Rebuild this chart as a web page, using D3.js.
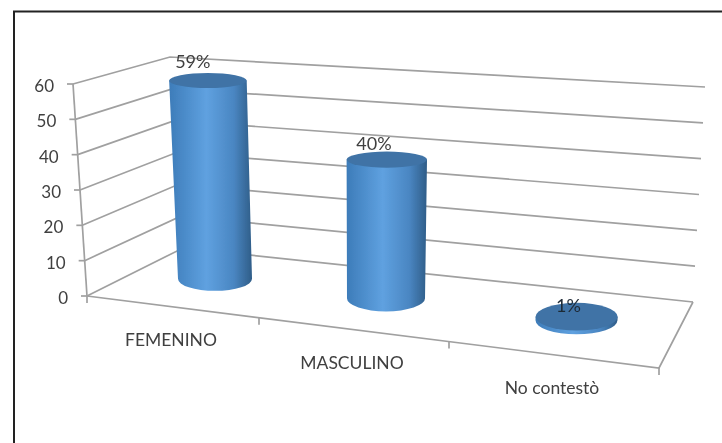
<!DOCTYPE html>
<html>
<head>
<meta charset="utf-8">
<title>Sexo</title>
<script src="https://cdn.jsdelivr.net/npm/d3@7/dist/d3.min.js"></script>
<style>
    html, body { margin: 0; padding: 0; background: #fff; }
    svg { display: block; }
    text { font-family: Lato, "Open Sans", sans-serif; fill: #404040; }
</style>
</head>
<body>
<script>
var categories = ["FEMENINO", "MASCULINO", "No contestò"];
var values = [59, 40, 1];
var valueLabels = ["59%", "40%", "1%"];
var yTicks = [0, 10, 20, 30, 40, 50, 60];

var svgWidth = 722, svgHeight = 443;

var svg = d3.select("body").append("svg")
    .attr("width", svgWidth)
    .attr("height", svgHeight);

var defs = svg.append("defs");
defs.append("filter").attr("id", "soft")
    .attr("x", 0).attr("y", 0).attr("width", 1).attr("height", 1)
    .attr("filterUnits", "objectBoundingBox")
    .append("feGaussianBlur").attr("stdDeviation", 0.45);

var grad = defs.append("linearGradient").attr("id", "side");
grad.append("stop").attr("offset", "0%").attr("stop-color", "#3d7cb9");
grad.append("stop").attr("offset", "45%").attr("stop-color", "#5fa1e0");
grad.append("stop").attr("offset", "78%").attr("stop-color", "#4a86c2");
grad.append("stop").attr("offset", "100%").attr("stop-color", "#2f5d88");

var root = svg.append("g").attr("filter", "url(#soft)");
root.append("rect").attr("width", svgWidth).attr("height", svgHeight).attr("fill", "#fff");

// frame, only top and left are in the picture
root.append("path")
    .attr("d", "M14,443V11.5H722")
    .attr("fill", "none")
    .attr("stroke", "#222")
    .attr("stroke-width", 2);

// the vertical edges of the 3d box
var frontX = d3.scaleLinear().domain([0, 60]).range([87, 73]);
var frontY = d3.scaleLinear().domain([0, 60]).range([296, 84]);
var backX = d3.scaleLinear().domain([0, 60]).range([183, 170]);
var backY = d3.scaleLinear().domain([0, 60]).range([248, 57]);
var rightX = d3.scaleLinear().domain([0, 60]).range([693, 705]);
var rightY = d3.scaleLinear().domain([0, 60]).range([302, 87]);

// floor edges, index 0..3 is the category boundary
var floorFrontX = d3.scaleLinear().domain([0, 1, 2, 3]).range([87, 259, 449, 659]);
var floorFrontY = d3.scaleLinear().domain([87, 659]).range([296, 368]);
var floorBackX = d3.scaleLinear().domain([0, 1, 2, 3]).range([183, 331, 505, 693]);
var floorBackY = d3.scaleLinear().domain([183, 693]).range([248, 302]);

var gridColor = "#a0a0a0";
var grid = root.append("g")
    .attr("fill", "none")
    .attr("stroke", gridColor)
    .attr("stroke-width", 1.7);

grid.selectAll("path.wall").data(yTicks).enter().append("path")
    .attr("class", "wall")
    .attr("d", function(d) {
        return "M" + frontX(d) + "," + frontY(d) +
            "L" + backX(d) + "," + backY(d) +
            "L" + rightX(d) + "," + rightY(d);
    });

// left edge + its ticks
grid.append("path").attr("d", "M" + frontX(60) + "," + frontY(60) + "L" + frontX(0) + "," + frontY(0));
grid.selectAll("line.ytick").data(yTicks).enter().append("line")
    .attr("class", "ytick")
    .attr("x1", function(d) { return frontX(d) - 6; })
    .attr("x2", function(d) { return frontX(d); })
    .attr("y1", function(d) { return frontY(d); })
    .attr("y2", function(d) { return frontY(d); });

// floor
grid.append("path").attr("d",
    "M" + floorFrontX(0) + "," + floorFrontY(floorFrontX(0)) +
    "L" + floorFrontX(3) + "," + floorFrontY(floorFrontX(3)) +
    "L" + rightX(0) + "," + rightY(0));
grid.selectAll("line.xtick").data([0, 1, 2, 3]).enter().append("line")
    .attr("class", "xtick")
    .attr("x1", function(d) { return floorFrontX(d); })
    .attr("x2", function(d) { return floorFrontX(d); })
    .attr("y1", function(d) { return floorFrontY(floorFrontX(d)); })
    .attr("y2", function(d) { return floorFrontY(floorFrontX(d)) + 7; });

root.selectAll("text.ylab").data(yTicks).enter().append("text")
    .attr("class", "ylab")
    .attr("x", function(d) { return frontX(d) - 19; })
    .attr("y", function(d) { return frontY(d) + 8; })
    .attr("text-anchor", "end")
    .attr("font-size", 17)
    .text(function(d) { return d; });

// cylinders
var depthX = 0.5, depthY = 0.55;
var unit = d3.scaleLinear().domain([0, 1]).range([3.36, 3.47]);
var lean = d3.scaleLinear().domain([0, 1, 2]).range([-0.12, 0.02, 0.1]);
var rxScale = d3.scaleLinear().domain([0, 2]).range([37, 41]);
var ryScale = d3.scaleLinear().domain([80, 159, 278, 320]).range([7.5, 8, 12, 14]);

var bars = values.map(function(v, i) {
    var fx = floorFrontX(i + 0.5), bx = floorBackX(i + 0.5);
    var fy = floorFrontY(fx), by = floorBackY(bx);
    var x = fx + (bx - fx) * depthX;
    var y = fy + (by - fy) * depthY;
    var top = y - v * unit(i);
    return {
        value: v,
        label: valueLabels[i],
        x: x,
        xTop: x + v * lean(i),
        base: y,
        top: top,
        rx: rxScale(i),
        rxTop: rxScale(i) + v * 0.03,
        ryBase: ryScale(y),
        ryTop: ryScale(top)
    };
});

var barG = root.selectAll("g.bar").data(bars).enter().append("g").attr("class", "bar");

barG.append("path")
    .attr("fill", "url(#side)")
    .attr("d", function(d) {
        return "M" + (d.xTop - d.rxTop) + "," + d.top +
            "L" + (d.x - d.rx) + "," + d.base +
            "A" + d.rx + "," + d.ryBase + " 0 0 0 " + (d.x + d.rx) + "," + d.base +
            "L" + (d.xTop + d.rxTop) + "," + d.top + "Z";
    });

barG.append("ellipse")
    .attr("fill", "#3f73a6")
    .attr("cx", function(d) { return d.xTop; })
    .attr("cy", function(d) { return d.top; })
    .attr("rx", function(d) { return d.rxTop; })
    .attr("ry", function(d) { return d.ryTop; });

barG.append("text")
    .attr("x", function(d) { return d.xTop - 8 - d.value * 0.12; })
    .attr("y", function(d) { return d.top - 5 - d.value * 0.12; })
    .attr("text-anchor", "middle")
    .attr("font-size", 18)
    .style("fill", function(d) { return d.value < 5 ? "#1f2a36" : null; })
    .text(function(d) { return d.label; });

// category labels hang off the front floor edge
root.selectAll("text.cat").data(categories).enter().append("text")
    .attr("class", "cat")
    .attr("x", function(d, i) { return floorFrontX(i + 0.5) - 2; })
    .attr("y", function(d, i) { return floorFrontY(floorFrontX(i + 0.5)) + 39; })
    .attr("text-anchor", "middle")
    .attr("font-size", 17.5)
    .text(function(d) { return d; });
</script>
</body>
</html>
